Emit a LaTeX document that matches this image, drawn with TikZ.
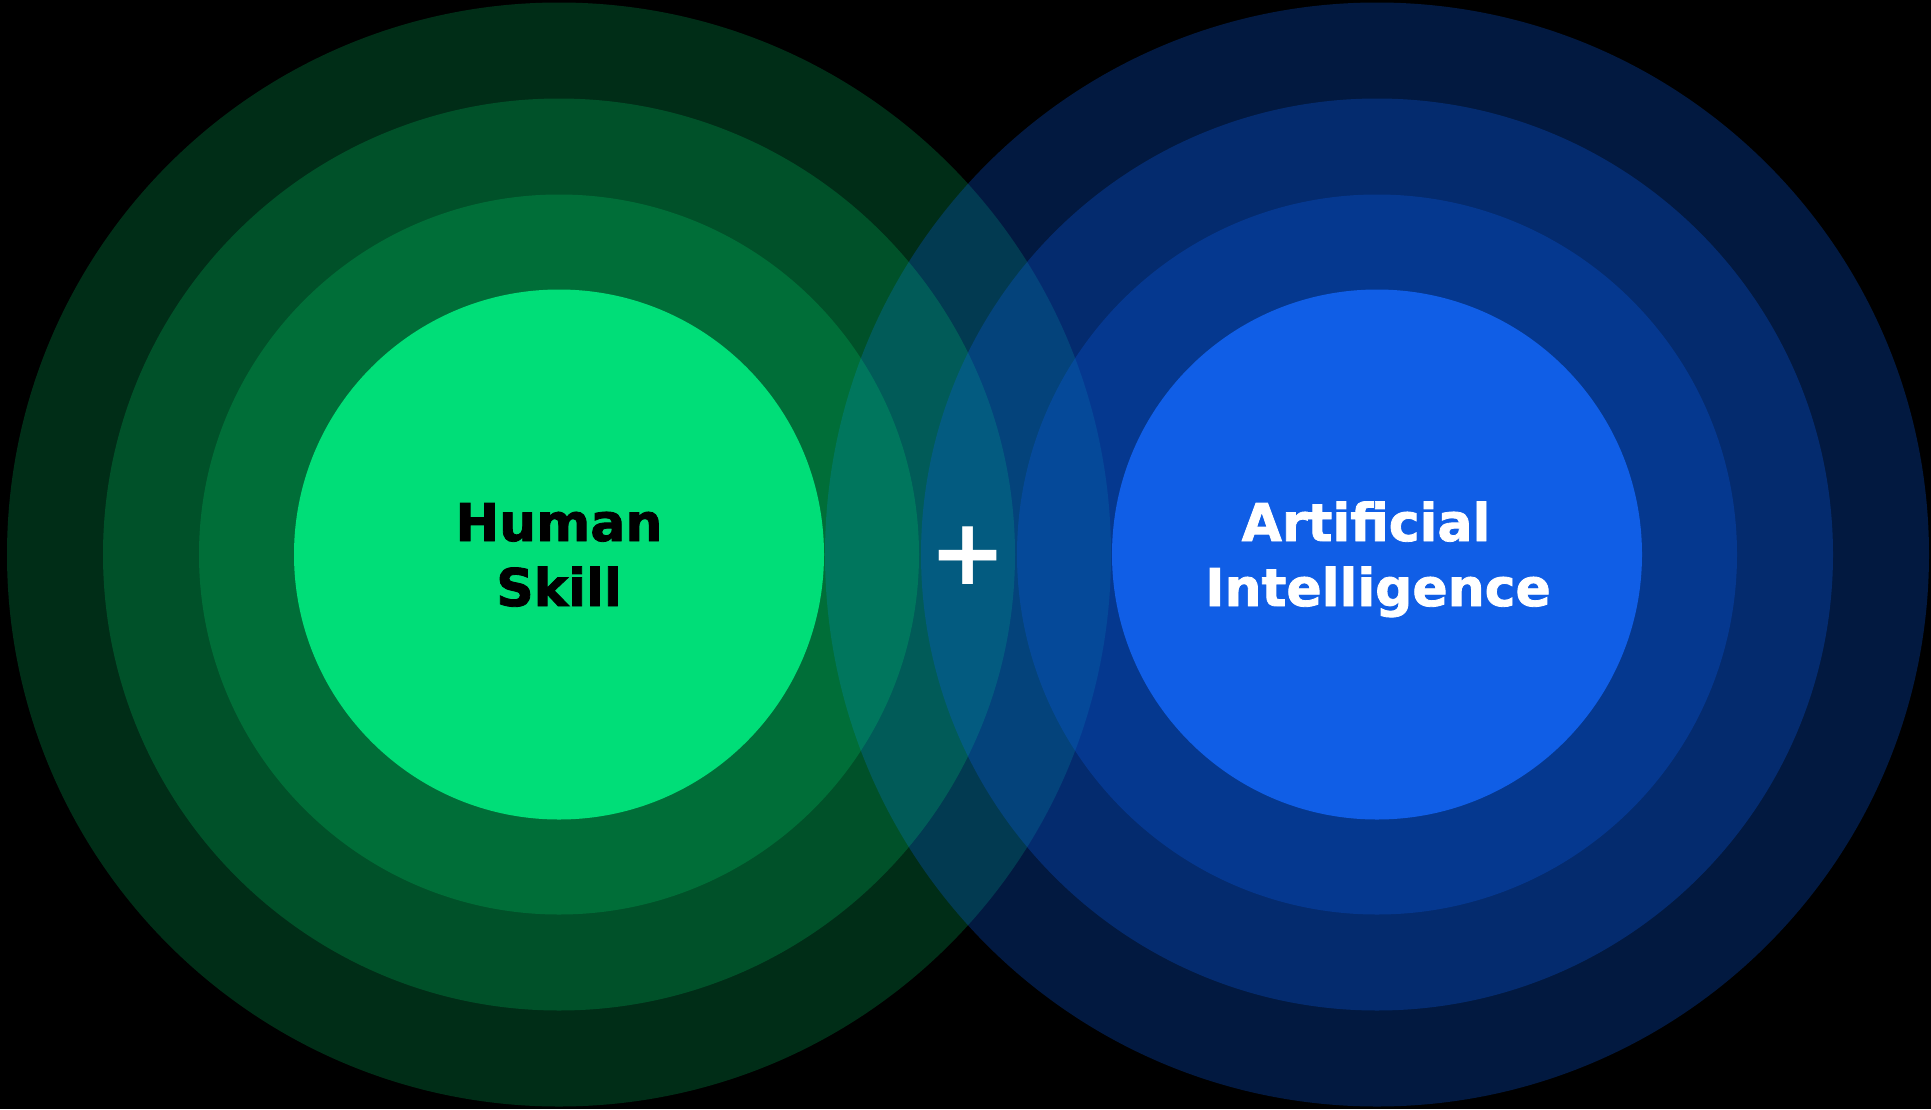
\documentclass[tikz,border=0pt]{standalone}
\usepackage{fontspec}
\newfontfamily\labelfont{DejaVu Sans}[BoldFeatures={FakeBold=1.6}]
\newfontfamily\signfont{DejaVu Sans}

% layer colours: each ring is a translucent disc over the black ground
\definecolor{humanlayer}{RGB}{0,224,116}
\definecolor{humancore}{RGB}{0,222,120}
\definecolor{machinelayer}{RGB}{10,92,232}
\definecolor{machinecore}{RGB}{16,94,230}

\tikzset{
  humanring/.style={fill=humanlayer, fill opacity=0.205},
  machinering/.style={fill=machinelayer, fill opacity=0.28},
  headtext/.style={font=\labelfont\bfseries\fontsize{52}{60}\selectfont, inner sep=0pt, anchor=base},
  plussign/.style={font=\signfont\bfseries\fontsize{92}{92}\selectfont, text=white, inner sep=0pt}
}

\begin{document}
\begin{tikzpicture}[x=1pt, y=-1pt]
  \fill[black] (0,0) rectangle (1931,1109);
  \useasboundingbox (0,0) rectangle (1931,1109);

  \coordinate (hc) at (559,554.5);
  \coordinate (mc) at (1377,554.5);

  % outer discs first, alternating sides, then the smaller ones
  \fill[humanring]   (hc) circle (552pt);
  \fill[machinering] (mc) circle (552pt);
  \fill[humanring]   (hc) circle (456pt);
  \fill[machinering] (mc) circle (456pt);
  \fill[humanring]   (hc) circle (360pt);
  \fill[machinering] (mc) circle (360pt);

  % solid cores
  \fill[humancore]   (hc) circle (265pt);
  \fill[machinecore] (mc) circle (265pt);

  % labels
  \node[headtext, text=black] (human) at (559,541) {Human};
  \node[headtext, text=black] (skill) at (559,606) {Skill};
  \node[headtext, text=white] (artificial) at (1366,541) {Artificial};
  \node[headtext, text=white] (intelligence) at (1378,606) {Intelligence};

  \node[plussign] (plus) at (968.5,555.5) {+};
\end{tikzpicture}
\end{document}
